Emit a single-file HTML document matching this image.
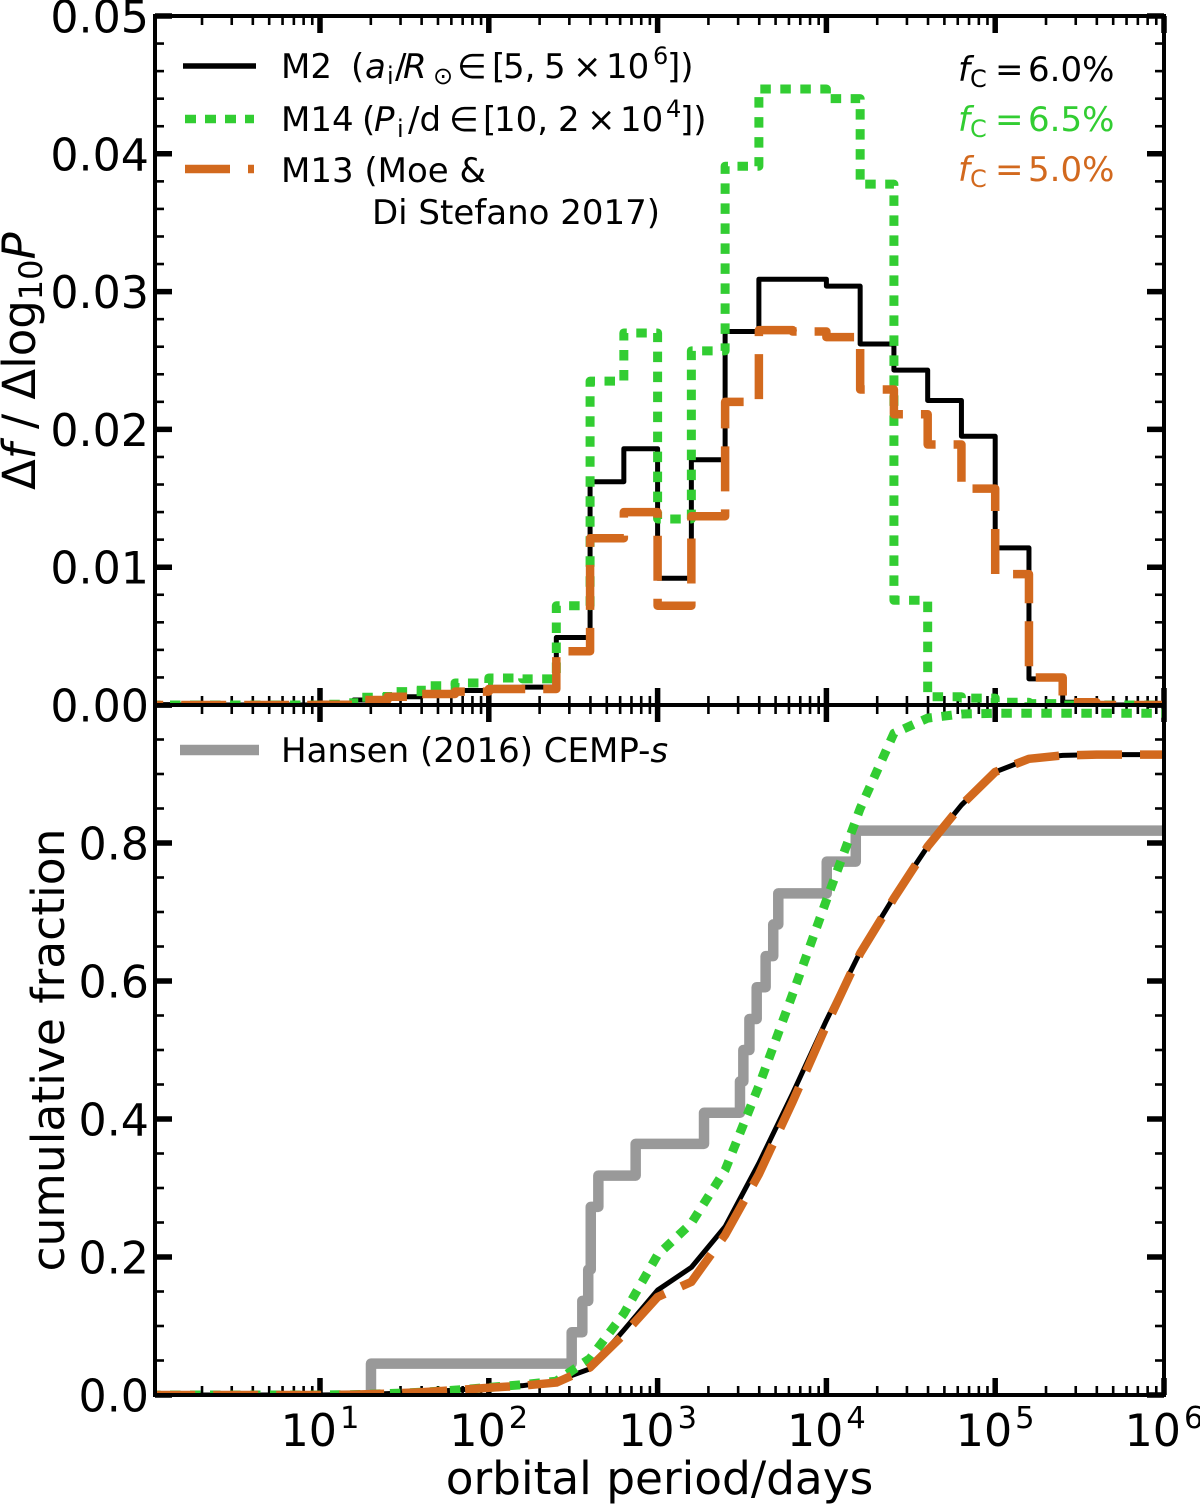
<!DOCTYPE html>
<html>
<head>
<meta charset="utf-8">
<title>Orbital period distributions</title>
<style>
html,body{margin:0;padding:0;background:#fff;}
svg{display:block;font-family:"DejaVu Sans","Liberation Sans",sans-serif;}
.ml{font-size:34px;}
.it{font-style:italic;}
</style>
</head>
<body>
<svg id="chart" xmlns="http://www.w3.org/2000/svg" width="1200" height="1504" viewBox="0 0 1200 1504">
<defs>
<clipPath id="clip-top"><rect x="155" y="16" width="1009" height="689"/></clipPath>
<clipPath id="clip-bottom"><rect x="155" y="705" width="1009" height="690"/></clipPath>
</defs>
<rect x="0" y="0" width="1200" height="1504" fill="#fff"/>
<g id="tick-layer"></g>
<g id="top-series" clip-path="url(#clip-top)"></g>
<g id="bottom-series" clip-path="url(#clip-bottom)"></g>
<rect x="155" y="16" width="1009" height="689" fill="none" stroke="#000" stroke-width="4"/>
<rect x="155" y="705" width="1009" height="690" fill="none" stroke="#000" stroke-width="4"/>
<g id="label-layer" font-size="44.3" fill="#000"></g>

<g>
<line x1="183" y1="66" x2="256" y2="66" stroke="#000" stroke-width="5.5"/>
<line x1="185" y1="119" x2="254" y2="119" stroke="#32CD32" stroke-width="8.5" stroke-dasharray="11 9"/>
<line x1="185" y1="169" x2="254" y2="169" stroke="#D2691E" stroke-width="8.5" stroke-dasharray="45 18"/>
<text class="ml" y="78"><tspan x="281">M2</tspan><tspan x="351">(</tspan><tspan class="it" x="365">a</tspan><tspan font-size="24" x="387" dy="6">i</tspan><tspan x="395" dy="-6">/</tspan><tspan class="it" x="403">R</tspan><tspan font-size="24" x="433" dy="6">⊙</tspan><tspan x="457" dy="-6">∈</tspan><tspan x="492">[</tspan><tspan x="503">5,</tspan><tspan x="544">5</tspan><tspan x="573">×</tspan><tspan x="606">10</tspan><tspan font-size="24" x="653" dy="-14">6</tspan><tspan x="667" dy="14">])</tspan></text>
<text class="ml" y="131"><tspan x="281">M14</tspan><tspan x="362">(</tspan><tspan class="it" x="374">P</tspan><tspan font-size="24" x="397" dy="6">i</tspan><tspan x="408" dy="-6">/d</tspan><tspan x="449">∈</tspan><tspan x="483">[</tspan><tspan x="494">10,</tspan><tspan x="558">2</tspan><tspan x="587">×</tspan><tspan x="620">10</tspan><tspan font-size="24" x="666" dy="-14">4</tspan><tspan x="680" dy="14">])</tspan></text>
<text class="ml" x="281" y="182">M13 (Moe &amp;</text>
<text class="ml" x="372" y="224">Di Stefano 2017)</text>
<text class="ml" y="81" fill="#000"><tspan class="it" x="958">f</tspan><tspan font-size="24" x="970" dy="6">C</tspan><tspan x="995" dy="-6">=</tspan><tspan x="1028">6.0%</tspan></text>
<text class="ml" y="131" fill="#32CD32"><tspan class="it" x="958">f</tspan><tspan font-size="24" x="970" dy="6">C</tspan><tspan x="995" dy="-6">=</tspan><tspan x="1028">6.5%</tspan></text>
<text class="ml" y="181" fill="#D2691E"><tspan class="it" x="958">f</tspan><tspan font-size="24" x="970" dy="6">C</tspan><tspan x="995" dy="-6">=</tspan><tspan x="1028">5.0%</tspan></text>
</g>
<g>
<line x1="180" y1="750" x2="259" y2="750" stroke="#999" stroke-width="10.5"/>
<text class="ml" x="281" y="762">Hansen (2016) CEMP-<tspan class="it">s</tspan></text>
</g>
<text font-size="45" transform="translate(35,490) rotate(-90)">Δ<tspan class="it">f</tspan> / Δlog<tspan font-size="32" dy="7">10</tspan><tspan class="it" dy="-7">P</tspan></text>
<text font-size="45.6" text-anchor="middle" transform="translate(64,1050) rotate(-90)">cumulative fraction</text>
<text font-size="45.4" text-anchor="middle" x="659.5" y="1494">orbital period/days</text>
</svg>
<script>
// Bin edges, log10(period/days)
const binEdges = [0,0.2,0.4,0.6,0.8,1,1.2,1.4,1.6,1.8,2,2.2,2.4,2.6,2.8,3,3.2,3.4,3.6,3.8,4,4.2,4.4,4.6,4.8,5,5.2,5.4,5.6,5.8,6];

// Differential fractions per bin
const histM2  = [0,0,0,0,0,0.00002,0.00036,0.0006,0.0008,0.00105,0.00128,0.0013,0.0049,0.0162,0.0186,0.0092,0.0178,0.0271,0.0309,0.0309,0.0304,0.0262,0.0243,0.0221,0.0195,0.0114,0.0019,0.0002,0,0];
const histM14 = [0,0,0,0,0,0.00005,0.00056,0.00097,0.0014,0.0016,0.00196,0.0019,0.0072,0.0235,0.0270,0.0135,0.0257,0.0391,0.0447,0.0447,0.0440,0.0378,0.0076,0.0006,0.0005,0.0002,0.0001,0,0,0];
const histM13 = [0,0,0,0,0,0.00002,0.00036,0.0006,0.0008,0.00097,0.00116,0.00116,0.0039,0.0121,0.0140,0.0072,0.0137,0.0220,0.0272,0.0271,0.0267,0.0229,0.0211,0.0189,0.0157,0.0095,0.0020,0.0002,0,0];

// Cumulative fractions at the upper edges (log10 period)
const cumLogP = [0,1,1.2,1.4,1.6,1.8,2,2.2,2.4,2.6,2.8,3,3.2,3.4,3.6,3.8,4,4.2,4.4,4.6,4.8,5,5.2,5.4,5.6,5.8,6];
const cumM2  = [0,0,0.0005,0.002,0.004,0.007,0.0105,0.0135,0.02,0.038,0.094,0.152,0.185,0.244,0.336,0.437,0.543,0.642,0.722,0.795,0.855,0.903,0.922,0.927,0.928,0.928,0.928];
const cumM14 = [0,0,0.0005,0.002,0.004,0.007,0.011,0.015,0.02,0.053,0.118,0.203,0.249,0.326,0.448,0.581,0.717,0.85,0.959,0.981,0.987,0.988,0.988,0.988,0.988,0.988,0.988];
const cumM13 = [0,0,0.0005,0.002,0.004,0.007,0.0105,0.0135,0.018,0.04,0.088,0.142,0.164,0.232,0.32,0.425,0.536,0.64,0.72,0.795,0.855,0.903,0.922,0.927,0.928,0.928,0.928];

// Hansen (2016) observed step distribution
const hansenLogP = [1.302,2.491,2.554,2.589,2.604,2.649,2.870,3.275,3.488,3.508,3.544,3.587,3.640,3.685,3.715,4.002,4.174];
const hansenCum  = [0.0455,0.0909,0.1364,0.1818,0.2727,0.318,0.364,0.409,0.4545,0.5,0.545,0.591,0.636,0.682,0.727,0.773,0.818];

// Axis ticks
const xMajorExponents = [1,2,3,4,5,6];
const xMinorDecades = [0,1,2,3,4,5];
const xMinorMultiples = [2,3,4,5,6,7,8,9];
const topYLabels = ["0.00","0.01","0.02","0.03","0.04","0.05"];
const bottomYLabels = ["0.0","0.2","0.4","0.6","0.8"];
const topYMajor = [0,0.01,0.02,0.03,0.04,0.05];
const bottomYMajor = [0.0,0.2,0.4,0.6,0.8,1.0];
const topYMinor = [0.002,0.004,0.006,0.008,0.012,0.014,0.016,0.018,0.022,0.024,0.026,0.028,0.032,0.034,0.036,0.038,0.042,0.044,0.046,0.048];
const bottomYMinor = [0.05,0.1,0.15,0.25,0.3,0.35,0.45,0.5,0.55,0.65,0.7,0.75,0.85,0.9,0.95];

const NS = 'http://www.w3.org/2000/svg';
const xScale = function (logP) { return 1164 - 168.8 * (6 - logP); };
const yTop = function (v) { return 705 - 13780 * v; };
const yBottom = function (v) { return 1395 - 690 * v; };

function stairPath(edges, values, yFn) {
  let d = 'M' + xScale(edges[0]).toFixed(2) + ' ' + yFn(values[0]).toFixed(2);
  for (let i = 0; i < values.length; i++) {
    d += 'H' + xScale(edges[i + 1]).toFixed(2);
    if (i + 1 < values.length) d += 'V' + yFn(values[i + 1]).toFixed(2);
  }
  return d;
}
function linePath(xs, ys, yFn) {
  return xs.map(function (x, i) {
    return (i ? 'L' : 'M') + xScale(x).toFixed(2) + ' ' + yFn(ys[i]).toFixed(2);
  }).join('');
}
function hansenPath() {
  let d = 'M' + xScale(hansenLogP[0]).toFixed(2) + ' ' + yBottom(0).toFixed(2);
  for (let i = 0; i < hansenLogP.length; i++) {
    d += 'V' + yBottom(hansenCum[i]).toFixed(2);
    d += 'H' + xScale(i + 1 < hansenLogP.length ? hansenLogP[i + 1] : 6.02).toFixed(2);
  }
  return d;
}
function seriesPath(parent, d, color, width, dash, offset, seriesName) {
  const p = document.createElementNS(NS, 'path');
  
  
  p.setAttribute('d', d);
  p.setAttribute('fill', 'none');
  p.setAttribute('stroke', color);
  p.setAttribute('stroke-width', width);
  p.setAttribute('stroke-linejoin', 'round');
  if (dash) p.setAttribute('stroke-dasharray', dash);
  if (offset) p.setAttribute('stroke-dashoffset', offset);
  parent.appendChild(p);
}

const topG = document.getElementById('top-series');
const botG = document.getElementById('bottom-series');
const tickG = document.getElementById('tick-layer');
const labelG = document.getElementById('label-layer');

seriesPath(topG, stairPath(binEdges, histM2, yTop), '#000', 5, '', 0, 'hist-m2');
seriesPath(topG, stairPath(binEdges, histM14, yTop), '#32CD32', 9, '10.5 9.5', 1.2, 'hist-m14');
seriesPath(topG, stairPath(binEdges, histM13, yTop), '#D2691E', 8.5, '45 18', 33, 'hist-m13');

seriesPath(botG, hansenPath(), '#999', 10.5, '', 0, 'cumulative-hansen');
seriesPath(botG, linePath(cumLogP, cumM2, yBottom), '#000', 5, '', 0, 'cumulative-m2');
seriesPath(botG, linePath(cumLogP, cumM14, yBottom), '#32CD32', 9, '10.5 9.5', 1.2, 'cumulative-m14');
seriesPath(botG, linePath(cumLogP, cumM13, yBottom), '#D2691E', 8.5, '45 18', 1, 'cumulative-m13');

function tick(x1, y1, x2, y2, w) {
  const l = document.createElementNS(NS, 'line');
  
  
  l.setAttribute('x1', x1);
  l.setAttribute('y1', y1);
  l.setAttribute('x2', x2);
  l.setAttribute('y2', y2);
  l.setAttribute('stroke', '#000');
  l.setAttribute('stroke-width', w);
  tickG.appendChild(l);
}
const hLines = [[16, 1], [705, -1], [705, 1], [1395, -1]];
hLines.forEach(function (h) {
  xMajorExponents.forEach(function (e) {
    const x = xScale(e);
    tick(x, h[0], x, h[0] + h[1] * 17, 5.5);
  });
  xMinorDecades.forEach(function (dec) {
    xMinorMultiples.forEach(function (m) {
      const x = xScale(dec + Math.log10(m));
      if (x > 156) tick(x, h[0], x, h[0] + h[1] * 9, 2.6);
    });
  });
});
function yTicks(majors, minors, yFn) {
  majors.forEach(function (v) {
    const y = yFn(v);
    tick(155, y, 172, y, 5.5);
    tick(1164, y, 1147, y, 5.5);
  });
  minors.forEach(function (v) {
    const y = yFn(v);
    tick(155, y, 164, y, 2.6);
    tick(1164, y, 1155, y, 2.6);
  });
}
yTicks(topYMajor, topYMinor, yTop);
yTicks(bottomYMajor, bottomYMinor, yBottom);

function yLabel(txt, y) {
  const t = document.createElementNS(NS, 'text');
  
  
  t.setAttribute('x', 149);
  t.setAttribute('y', y + 16.5);
  t.setAttribute('text-anchor', 'end');
  t.textContent = txt;
  labelG.appendChild(t);
}
topYLabels.forEach(function (s, i) { yLabel(s, yTop(topYMajor[i])); });
bottomYLabels.forEach(function (s, i) { yLabel(s, yBottom(bottomYMajor[i])); });

xMajorExponents.forEach(function (e) {
  const t = document.createElementNS(NS, 'text');
  
  
  t.setAttribute('x', xScale(e));
  t.setAttribute('y', 1446);
  t.setAttribute('text-anchor', 'middle');
  t.textContent = '10';
  const s = document.createElementNS(NS, 'tspan');
  
  
  s.setAttribute('font-size', '30.5');
  s.setAttribute('dy', '-18');
  s.setAttribute('dx', '3');
  s.textContent = String(e);
  t.appendChild(s);
  labelG.appendChild(t);
});
</script>
</body>
</html>
